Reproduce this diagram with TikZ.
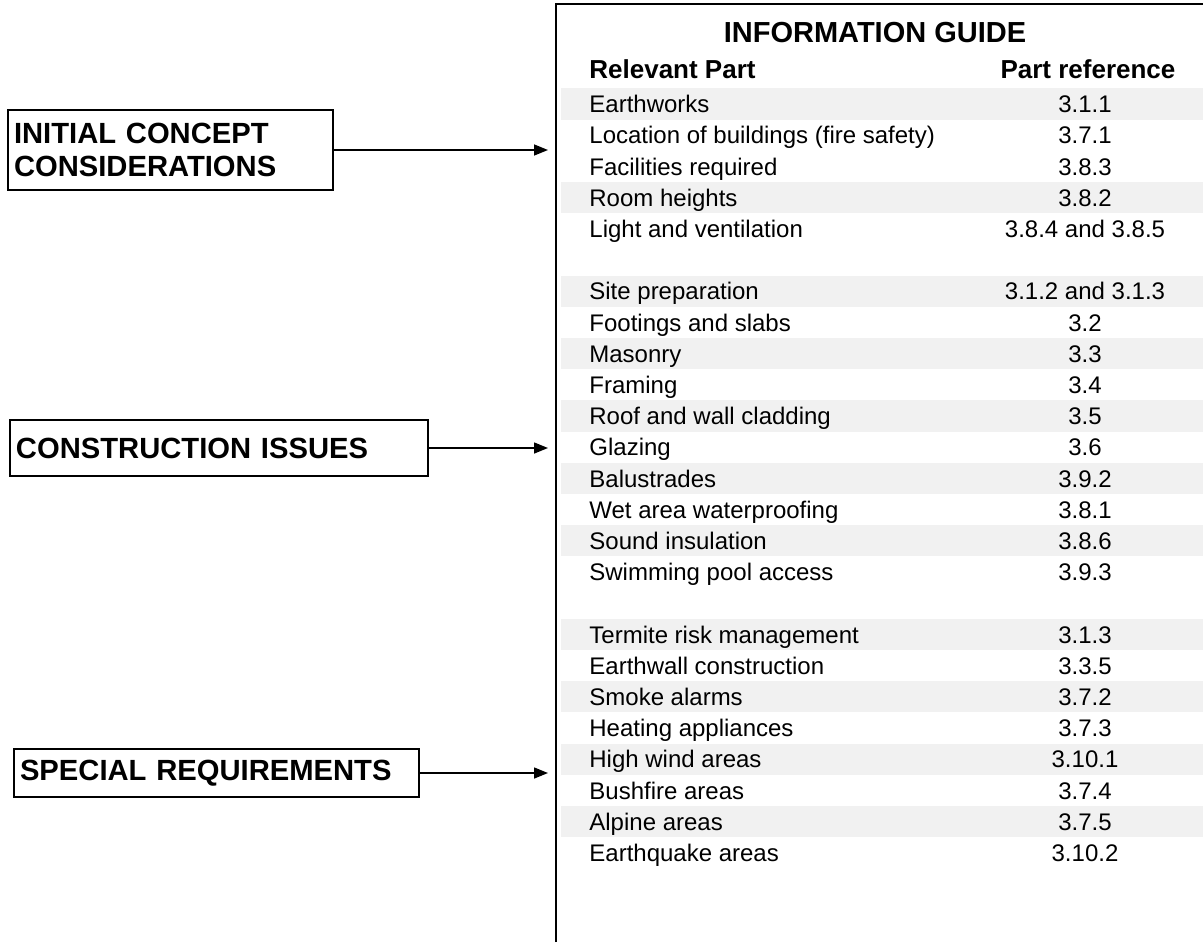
\documentclass[tikz,border=0pt]{standalone}
\usepackage{fontspec}
\setmainfont{Liberation Sans}
\usetikzlibrary{arrows.meta}
\definecolor{rowgray}{RGB}{241,241,241}
\begin{document}
\begin{tikzpicture}[x=0.5pt,y=-0.5pt,
  conbox/.style={draw,line width=1pt,inner xsep=3pt,inner ysep=0pt,align=left,
    font=\fontsize{14.6}{16.5}\selectfont\bfseries},
  arr/.style={line width=0.75pt,-{Triangle[length=7pt,width=5.5pt]}},
  cell/.style={inner sep=0pt,text height=8.6pt,text depth=0pt,font=\fontsize{12}{14}\selectfont},
  headcell/.style={inner sep=0pt,text height=9.3pt,text depth=0pt,font=\fontsize{13}{15}\selectfont\bfseries},
  titlecell/.style={inner sep=0pt,text height=10pt,text depth=0pt,font=\fontsize{14.5}{16}\selectfont\bfseries},
  band/.style={fill=rowgray,draw=none}]
\useasboundingbox (0,0) rectangle (1203,942);

% row shading
\foreach \i in {0,3,6,8,10,12,14,17,19,21,23}
  \path[band] (561,{104+31.2*\i-15.6}) rectangle (1203,{104+31.2*\i+15.6});

% table frame
\draw[line width=1.2pt] (556,942) -- (556,4) -- (1203,4);

% titles
\node[titlecell] (title) at (875,32) {INFORMATION GUIDE};
\node[headcell,anchor=west] (hleft) at (589,69) {Relevant Part};
\node[headcell] (hright) at (1088,69) {Part reference};

% rows
\foreach \i/\a/\b in {
  0/Earthworks/3.1.1,
  1/Location of buildings (fire safety)/3.7.1,
  2/Facilities required/3.8.3,
  3/Room heights/3.8.2,
  4/Light and ventilation/3.8.4 and 3.8.5,
  6/Site preparation/3.1.2 and 3.1.3,
  7/Footings and slabs/3.2,
  8/Masonry/3.3,
  9/Framing/3.4,
  10/Roof and wall cladding/3.5,
  11/Glazing/3.6,
  12/Balustrades/3.9.2,
  13/Wet area waterproofing/3.8.1,
  14/Sound insulation/3.8.6,
  15/Swimming pool access/3.9.3,
  17/Termite risk management/3.1.3,
  18/Earthwall construction/3.3.5,
  19/Smoke alarms/3.7.2,
  20/Heating appliances/3.7.3,
  21/High wind areas/3.10.1,
  22/Bushfire areas/3.7.4,
  23/Alpine areas/3.7.5,
  24/Earthquake areas/3.10.2}
{
  \node[cell,anchor=west] (part\i) at (589,{104+31.2*\i}) {\a};
  \node[cell] (ref\i) at (1085,{104+31.2*\i}) {\b};
}

% left boxes
\node[conbox,text width=156.5pt,minimum height=40pt] (b1) at (170.5,150)
  {INITIAL CONCEPT\\CONSIDERATIONS};
\node[conbox,text width=203pt,minimum height=28pt] (b2) at (219,448)
  {CONSTRUCTION ISSUES};
\node[conbox,text width=196.5pt,minimum height=24pt] (b3) at (216.5,773)
  {SPECIAL REQUIREMENTS};

\coordinate (t1) at (548,150);
\coordinate (t2) at (548,448);
\coordinate (t3) at (548,773);
\draw[arr] (b1) -- (t1);
\draw[arr] (b2) -- (t2);
\draw[arr] (b3) -- (t3);
\end{tikzpicture}
\end{document}
